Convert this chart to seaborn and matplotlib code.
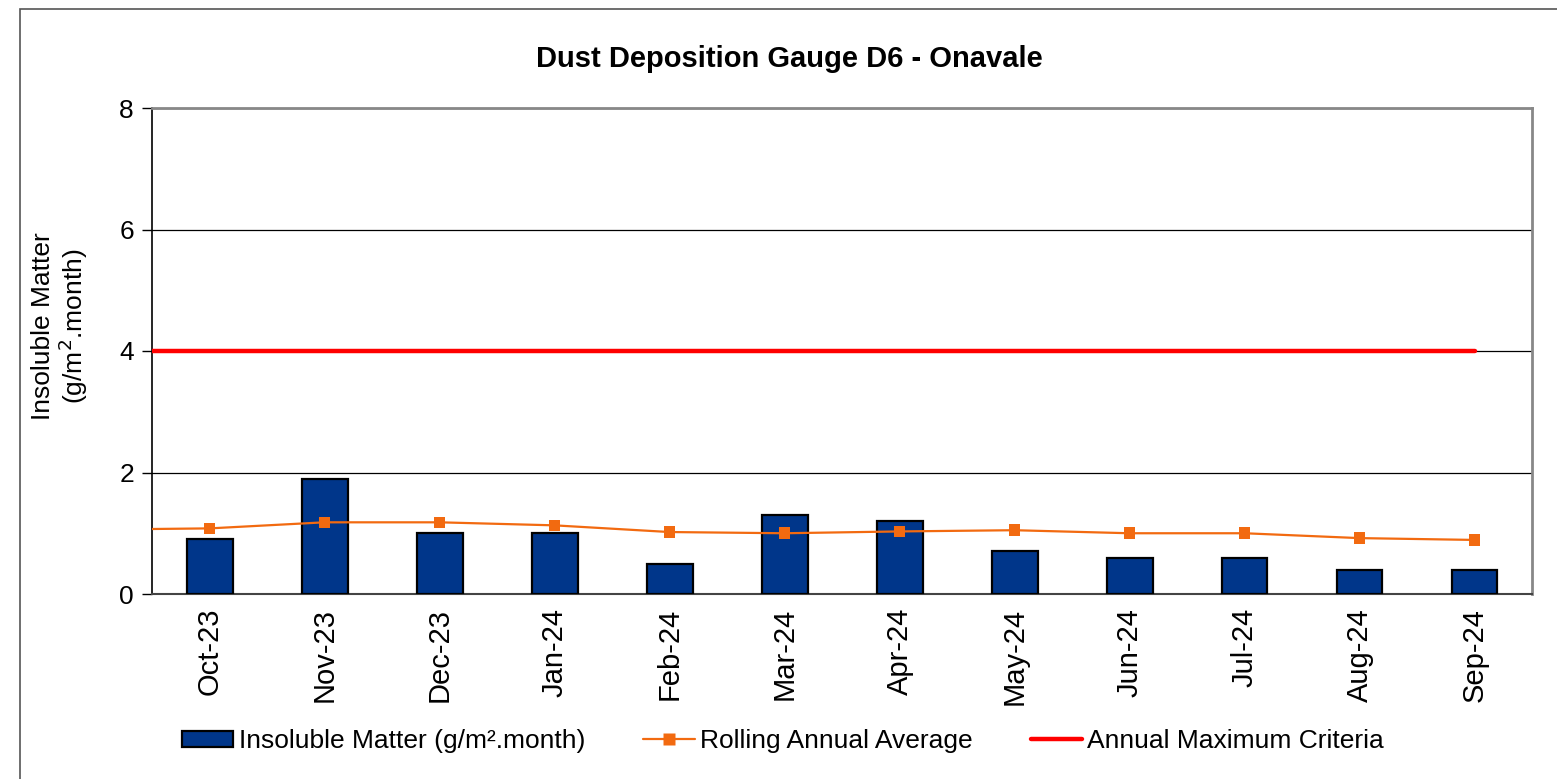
import matplotlib
matplotlib.use("Agg")
import matplotlib.pyplot as plt
import numpy as np
import pandas as pd
import seaborn as sns
from matplotlib.patches import Rectangle
from matplotlib.lines import Line2D

months = ["Oct-23", "Nov-23", "Dec-23", "Jan-24", "Feb-24", "Mar-24",
          "Apr-24", "May-24", "Jun-24", "Jul-24", "Aug-24", "Sep-24"]
insoluble = [0.9, 1.9, 1.0, 1.0, 0.5, 1.3, 1.2, 0.7, 0.6, 0.6, 0.4, 0.4]
rolling_avg = [1.08, 1.18, 1.18, 1.13, 1.02, 1.00, 1.03, 1.05, 1.00, 1.00, 0.92, 0.89]
rolling_prev = 1.06  # Sep-23, just off the left edge
criteria = 4.0

sns.set_style("white")
plt.rcParams["font.family"] = ["Liberation Sans", "DejaVu Sans"]
plt.rcParams["text.color"] = "black"
plt.rcParams["xtick.color"] = "black"
plt.rcParams["ytick.color"] = "black"
plt.rcParams["axes.labelcolor"] = "black"

fig = plt.figure(figsize=(15.57, 7.79), dpi=100)
ax = fig.add_axes([152 / 1557, 1 - 594 / 779, 1380 / 1557, 486 / 779])

df = pd.DataFrame({"month": months, "value": insoluble})
sns.barplot(data=df, x="month", y="value", color="#00368A", width=0.4,
            edgecolor="black", linewidth=1.6, saturation=1, ax=ax, zorder=3)

pos = np.arange(len(months))
roll_x = np.concatenate([[-1], pos])
roll_y = [rolling_prev] + rolling_avg
ax.plot(roll_x, roll_y, color="#F26A10", lw=1.6, zorder=4)
sns.scatterplot(x=pos, y=rolling_avg, marker="s", s=70, color="#F26A10",
                edgecolor="none", ax=ax, zorder=5)
crit_x = np.concatenate([[-1], pos])
ax.plot(crit_x, [criteria] * len(crit_x), color="#FF0000", lw=3.2, zorder=4)

ax.set_xlim(-0.5, len(months) - 0.5)
ax.set_ylim(0, 8)
ax.set_yticks([0, 2, 4, 6, 8])
ax.yaxis.grid(True, color="black", lw=0.9)
ax.set_axisbelow(True)

ax.set_xticks(pos)
ax.set_xticklabels(months, rotation=90, fontsize=21)
ax.set_xticks(np.arange(-0.5, len(months)), minor=True)
ax.tick_params(axis="x", which="major", length=0, pad=10)
ax.tick_params(axis="x", which="minor", length=7, width=1, color="#444444", direction="out")
ax.tick_params(axis="y", length=7, width=1, color="black", direction="out", labelsize=19,
               left=True, pad=6)
ax.set_xlabel("")
ax.set_ylabel("Insoluble Matter\n(g/m$^2$.month)", fontsize=19, linespacing=1.05)
ax.yaxis.set_label_coords((90 - 152) / 1380, (594 - 326) / 486)

for side in ["top", "right"]:
    ax.spines[side].set_color("#888888")
    ax.spines[side].set_linewidth(2)
ax.spines["left"].set_color("black")
ax.spines["left"].set_linewidth(1.2)
ax.spines["bottom"].set_color("#444444")
ax.spines["bottom"].set_linewidth(1.5)

fig.text(789 / 1557, 1 - 59 / 779, "Dust Deposition Gauge D6 - Onavale", ha="center", va="center",
         fontsize=21, fontweight="bold")

handles = [
    Rectangle((0, 0), 1, 1, facecolor="#00368A", edgecolor="black", linewidth=1.6),
    Line2D([], [], color="#F26A10", lw=1.6, marker="s", markersize=9, markeredgecolor="none"),
    Line2D([], [], color="#FF0000", lw=3.2),
]
labels = ["Insoluble Matter (g/m\u00b2.month)", "Rolling Annual Average", "Annual Maximum Criteria"]
fig.legend(handles, labels, loc="center", bbox_to_anchor=(783 / 1557, 1 - 741 / 779), ncol=3,
           frameon=False, fontsize=19, handlelength=1.95, handleheight=0.55,
           handletextpad=0.2, columnspacing=2.2)

fig.patches.append(Rectangle((20 / 1557, -0.1), 1.2, 1 - 9 / 779 + 0.1, transform=fig.transFigure,
                             fill=False, edgecolor="#555555", lw=1.2, figure=fig))

fig.savefig("out.png", dpi=100)
